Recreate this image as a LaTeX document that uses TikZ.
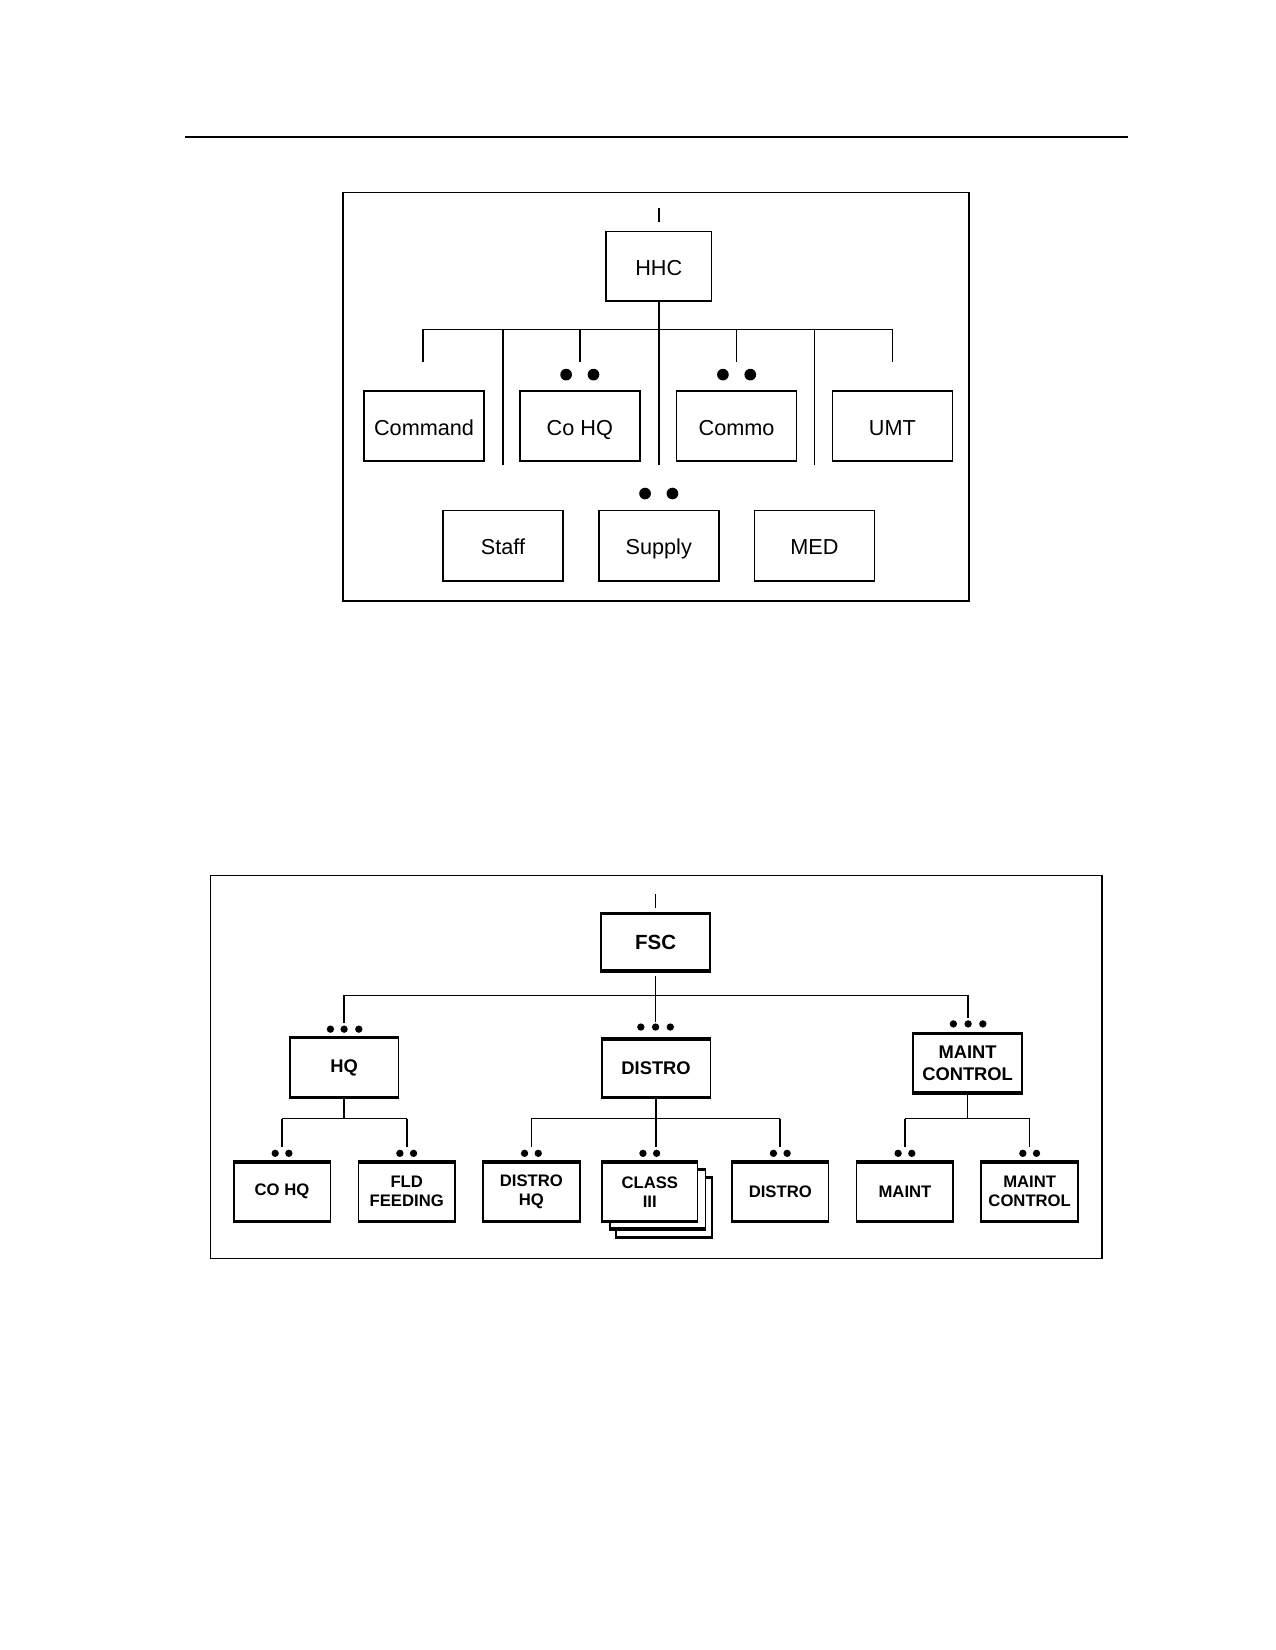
\documentclass[tikz,border=0pt]{standalone}
\usepackage{fontspec}
\setmainfont{Liberation Sans}
\begin{document}
\begin{tikzpicture}[x=0.6312pt,y=-0.6312pt,
  ln/.style={line width=0.95pt},
  frame/.style={draw,line width=1pt},
  tbox/.style={draw,line width=0.95pt,inner sep=0pt,fill=white,minimum width=72pt,minimum height=41.9pt,
    text height=12pt,text depth=1.3pt,font=\fontsize{13}{15}\selectfont},
  fbox/.style={draw,line width=1pt,inner sep=0pt,fill=white,align=center,
    minimum width=58pt,minimum height=34.7pt,font=\bfseries\fontsize{10}{11.4}\selectfont,
    append after command={(\tikzlastnode.north west) edge[line width=2pt] (\tikzlastnode.north east)
      (\tikzlastnode.south west) edge[line width=2pt] (\tikzlastnode.south east)}},
  mbox/.style={fbox,minimum width=65.3pt,minimum height=34.4pt,font=\bfseries\fontsize{11}{13.3}\selectfont},
  bigdot/.style={fill=black},
]
\useasboundingbox (0,0) rectangle (1212,1568);
% header rule
\coordinate (ruleL) at (176,130); \coordinate (ruleR) at (1072,130);
\draw[line width=1.3pt] (ruleL) -- (ruleR);

% ================= top diagram =================
\coordinate (f1a) at (326,183); \coordinate (f1b) at (921,571);
\draw[frame] (f1a) rectangle (f1b);
\node[tbox,minimum width=63.1pt,minimum height=41.7pt] (hhc) at (626,253) {HHC};
\coordinate (hhcTa) at (626,198); \coordinate (hhcTb) at (626,211);
\draw[ln] (hhcTa) -- (hhcTb);

\node[tbox] (command) at (403,405) {Command};
\node[tbox] (cohq) at (551,405) {Co HQ};
\node[tbox] (commo) at (700,405) {Commo};
\node[tbox] (umt) at (848,405) {UMT};
\node[tbox,minimum height=42.3pt] (staff) at (478,518.5) {Staff};
\node[tbox,minimum height=42.3pt] (supply) at (626,518.5) {Supply};
\node[tbox,minimum height=42.3pt] (med) at (774,518.5) {MED};

\coordinate (bus1) at (626,313);
\coordinate (bus1L) at (402,313); \coordinate (bus1R) at (848,313);
\draw[ln] (hhc.south) -- (bus1);
\draw[ln] (bus1L) -- (bus1R);
\draw[ln] (bus1L) -- (402,344);
\draw[ln] (cohq.north |- bus1) -- (cohq.north |- 0,344);
\draw[ln] (commo.north |- bus1) -- (commo.north |- 0,344);
\draw[ln] (bus1R) -- (848,344);
\draw[ln] (staff.north |- bus1) -- (staff.north |- 0,442);
\draw[ln] (bus1) -- (supply.north |- 0,442);
\draw[ln] (med.north |- bus1) -- (med.north |- 0,442);
% dots
\foreach \x in {538,564} \fill[bigdot] (\x,356) circle (3.5pt);
\foreach \x in {687,713} \fill[bigdot] (\x,356) circle (3.5pt);
\foreach \x in {613,639} \fill[bigdot] (\x,469) circle (3.5pt);

% ================= bottom diagram =================
\coordinate (f2a) at (200,832); \coordinate (f2b) at (1047,1196);
\draw[frame] (f2a) rectangle (f2b);
\coordinate (fscTa) at (623,850); \coordinate (fscTb) at (623,863);
\draw[ln] (fscTa) -- (fscTb);
\node[mbox,minimum width=65.6pt,minimum height=33.5pt,font=\bfseries\fontsize{12.3}{14}\selectfont] (fsc) at (623,895.5) {FSC};

\node[mbox,minimum height=34.7pt] (hq) at (327,1014.5) {HQ};
\node[mbox,minimum height=34.1pt] (distro) at (623.5,1015) {DISTRO};
\node[mbox,minimum height=34.7pt] (mc) at (919.5,1010.5) {MAINT\\CONTROL};

\coordinate (bus2) at (623,946);
\coordinate (bus2L) at (327,946); \coordinate (bus2R) at (920,946);
\draw[ln] ([yshift=-3pt]fsc.south) -- (bus2);
\draw[ln] (bus2L) -- (bus2R);
\draw[ln] (bus2L) -- (327,972);
\draw[ln] (bus2) -- (623,971);
\draw[ln] (bus2R) -- (920,967);
\foreach \x in {314,327,341} \fill (\x,978) circle (2.2pt);
\foreach \x in {609,623,637} \fill (\x,976) circle (2.2pt);
\foreach \x in {906,920,934} \fill (\x,973) circle (2.2pt);

% third row
\node[fbox] (cohq2) at (268,1132.5) {CO HQ};
\node[fbox] (fld) at (386.5,1132.5) {FLD\\FEEDING};
\node[fbox] (dhq) at (505,1132.5) {DISTRO\\HQ};
\node[fbox,minimum width=57.4pt] (class3) at (631,1147.5) {};
\node[fbox,minimum width=57.4pt] (class2) at (625,1139.5) {};
\node[fbox,minimum width=57.4pt] (class) at (617.5,1132.5) {CLASS\\III};
\node[fbox] (distro2) at (741.5,1132.5) {DISTRO};
\node[fbox] (maint) at (860,1132.5) {MAINT};
\node[fbox] (mc2) at (978.5,1132.5) {MAINT\\CONTROL};

% HQ children
\coordinate (b3a) at (327,1063);
\draw[ln] (hq.south) -- (b3a);
\draw[ln] (cohq2.north |- b3a) -- (fld.north |- b3a);
\draw[ln] (cohq2.north |- b3a) -- (cohq2.north |- 0,1090);
\draw[ln] (fld.north |- b3a) -- (fld.north |- 0,1090);
% DISTRO children
\coordinate (b3b) at (623.5,1063);
\draw[ln] (distro.south) -- (623.5,1090);
\draw[ln] (dhq.north |- b3b) -- (distro2.north |- b3b);
\draw[ln] (dhq.north |- b3b) -- (dhq.north |- 0,1090);
\draw[ln] (distro2.north |- b3b) -- (distro2.north |- 0,1090);
% MAINT children
\coordinate (b3c) at (919.5,1063);
\draw[ln] (mc.south) -- (b3c);
\draw[ln] (maint.north |- b3c) -- (mc2.north |- b3c);
\draw[ln] (maint.north |- b3c) -- (maint.north |- 0,1090);
\draw[ln] (mc2.north |- b3c) -- (mc2.north |- 0,1090);
% dots row 3
\foreach \c in {268,386.5,505,617.5,741.5,860,978.5}
  \foreach \d in {-6.5,6.5} \fill (\c+\d,1096) circle (2.2pt);
\end{tikzpicture}
\end{document}
